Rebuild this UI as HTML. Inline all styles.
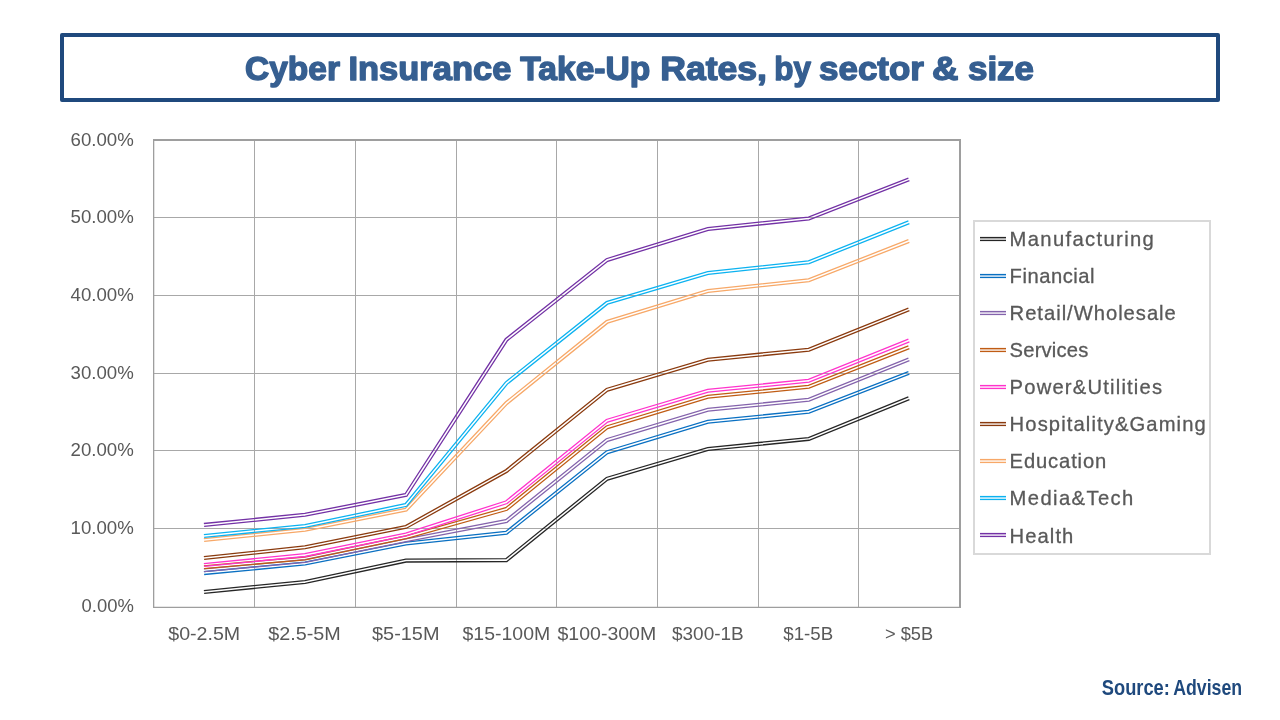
<!DOCTYPE html>
<html lang="en"><head><meta charset="utf-8"><title>Cyber Insurance Take-Up Rates, by sector &amp; size</title>
<style>
html,body{margin:0;padding:0;background:#fff;}
body{width:1280px;height:720px;overflow:hidden;position:relative;font-family:"Liberation Sans", sans-serif;}
svg{position:absolute;left:0;top:0;display:block}
text{font-family:"Liberation Sans", sans-serif;}
.ax{font-size:18.4px;fill:#595959}
.lg{font-size:20.2px;fill:#595959;stroke:#595959;stroke-width:0.3px}
.ttl{font-size:34.0px;font-weight:bold;fill:#365F91;stroke:#365F91;stroke-width:1.45px;stroke-linejoin:round}
.src{font-size:21.4px;font-weight:bold;fill:#1F497D}
</style></head><body>
<svg width="1280" height="720" viewBox="0 0 1280 720">
<rect width="1280" height="720" fill="#fff"/>
<rect x="62" y="35" width="1156" height="65" fill="#fff" stroke="#1F497D" stroke-width="4" stroke-linejoin="round"/>
<g class="ttl"><text x="245" y="80.4" textLength="95" lengthAdjust="spacingAndGlyphs">Cyber</text><text x="348.5" y="80.4" textLength="162.8" lengthAdjust="spacingAndGlyphs">Insurance</text><text x="520.3" y="80.4" textLength="130.0" lengthAdjust="spacingAndGlyphs">Take-Up</text><text x="660.2" y="80.4" textLength="106.79999999999995" lengthAdjust="spacingAndGlyphs">Rates,</text><text x="774.3" y="80.4" textLength="36.700000000000045" lengthAdjust="spacingAndGlyphs">by</text><text x="819" y="80.4" textLength="105" lengthAdjust="spacingAndGlyphs">sector</text><text x="932" y="80.4" textLength="26.5" lengthAdjust="spacingAndGlyphs">&amp;</text><text x="968" y="80.4" textLength="66" lengthAdjust="spacingAndGlyphs">size</text></g>
<g stroke="#A8A8A8" stroke-width="1" fill="none" shape-rendering="crispEdges"><line x1="153.65" y1="217.5" x2="960.0" y2="217.5"/><line x1="153.65" y1="295.5" x2="960.0" y2="295.5"/><line x1="153.65" y1="373.5" x2="960.0" y2="373.5"/><line x1="153.65" y1="450.5" x2="960.0" y2="450.5"/><line x1="153.65" y1="528.5" x2="960.0" y2="528.5"/><line x1="254.50" y1="140.0" x2="254.50" y2="607.0"/><line x1="355.50" y1="140.0" x2="355.50" y2="607.0"/><line x1="456.50" y1="140.0" x2="456.50" y2="607.0"/><line x1="556.50" y1="140.0" x2="556.50" y2="607.0"/><line x1="657.50" y1="140.0" x2="657.50" y2="607.0"/><line x1="758.50" y1="140.0" x2="758.50" y2="607.0"/><line x1="858.50" y1="140.0" x2="858.50" y2="607.0"/></g>
<g stroke="#9E9E9E" fill="none"><line x1="153" y1="140" x2="961" y2="140" stroke-width="2"/><line x1="960" y1="139" x2="960" y2="608" stroke-width="2"/><line x1="153.65" y1="139" x2="153.65" y2="608" stroke-width="1.3"/><line x1="153" y1="607.35" x2="961" y2="607.35" stroke-width="1.3"/></g>
<g fill="none" stroke="#262626" stroke-width="1.3" stroke-linejoin="miter"><polyline points="204.14,593.39 305.21,583.39 406.15,562.00 506.90,561.50 607.66,480.01 708.17,450.38 809.09,440.27 909.43,399.55"/><polyline points="203.86,590.61 304.79,580.61 405.85,559.20 505.90,558.70 606.34,477.49 707.63,447.62 808.41,437.53 908.37,396.95"/></g>
<g fill="none" stroke="#0A70C2" stroke-width="1.3" stroke-linejoin="miter"><polyline points="204.13,574.49 305.20,564.89 406.21,544.89 506.96,534.10 607.66,453.51 708.17,423.13 809.08,413.12 909.41,374.21"/><polyline points="203.87,571.71 304.80,562.11 405.79,542.11 505.84,531.40 606.34,450.99 707.63,420.37 808.42,410.38 908.39,371.59"/></g>
<g fill="none" stroke="#8463AC" stroke-width="1.3" stroke-linejoin="miter"><polyline points="204.13,571.69 305.21,562.39 406.27,541.67 507.01,522.31 607.66,441.26 708.17,411.13 809.09,401.12 909.42,360.70"/><polyline points="203.87,568.91 304.79,559.61 405.73,538.93 505.79,519.69 606.34,438.74 707.63,408.37 808.41,398.38 908.38,358.10"/></g>
<g fill="none" stroke="#C05C14" stroke-width="1.3" stroke-linejoin="miter"><polyline points="204.12,568.59 305.21,559.79 406.33,538.56 507.06,510.27 607.67,428.51 708.17,398.13 809.08,388.12 909.41,348.55"/><polyline points="203.88,565.81 304.79,557.01 405.67,535.84 505.74,507.73 606.33,425.99 707.63,395.37 808.42,385.38 908.39,345.95"/></g>
<g fill="none" stroke="#FF33CC" stroke-width="1.3" stroke-linejoin="miter"><polyline points="204.14,566.39 305.21,556.49 406.36,535.96 507.08,503.50 607.67,422.01 708.17,392.13 809.09,382.12 909.42,341.80"/><polyline points="203.86,563.61 304.79,553.71 405.64,533.24 505.72,501.00 606.33,419.49 707.63,389.37 808.41,379.38 908.38,339.20"/></g>
<g fill="none" stroke="#8A3A0E" stroke-width="1.3" stroke-linejoin="miter"><polyline points="204.15,559.39 305.21,548.69 406.49,528.23 507.19,472.16 607.66,391.01 708.17,361.08 809.09,351.12 909.42,310.70"/><polyline points="203.85,556.61 304.79,545.91 405.51,525.57 505.61,469.84 606.34,388.49 707.63,358.32 808.41,348.38 908.38,308.10"/></g>
<g fill="none" stroke="#F7A868" stroke-width="1.3" stroke-linejoin="miter"><polyline points="204.14,541.39 305.21,531.09 406.71,510.99 507.35,404.13 607.67,323.16 708.18,292.28 809.08,281.62 909.41,242.30"/><polyline points="203.86,538.61 304.79,528.31 405.29,508.41 505.45,402.07 606.33,320.64 707.62,289.52 808.42,278.88 908.39,239.70"/></g>
<g fill="none" stroke="#0CB2F0" stroke-width="1.3" stroke-linejoin="miter"><polyline points="204.14,537.39 305.21,527.39 406.77,506.27 507.39,384.10 607.66,304.16 708.18,274.38 809.09,263.62 909.42,223.55"/><polyline points="203.86,534.61 304.79,524.61 405.23,503.73 505.41,382.10 606.34,301.64 707.62,271.62 808.41,260.88 908.38,220.95"/></g>
<g fill="none" stroke="#7331A5" stroke-width="1.3" stroke-linejoin="miter"><polyline points="204.14,526.29 305.20,516.19 406.85,496.26 507.45,340.70 607.66,261.26 708.18,230.28 809.08,219.87 909.41,180.70"/><polyline points="203.86,523.51 304.80,513.41 405.15,493.74 505.35,338.80 606.34,258.74 707.62,227.52 808.42,217.13 908.39,178.10"/></g>
<g class="ax" text-anchor="end"><text x="133.8" y="145.6" textLength="63.2" lengthAdjust="spacingAndGlyphs">60.00%</text><text x="133.8" y="222.9" textLength="63.2" lengthAdjust="spacingAndGlyphs">50.00%</text><text x="133.8" y="300.6" textLength="63.2" lengthAdjust="spacingAndGlyphs">40.00%</text><text x="133.8" y="378.6" textLength="63.2" lengthAdjust="spacingAndGlyphs">30.00%</text><text x="133.8" y="456.0" textLength="63.2" lengthAdjust="spacingAndGlyphs">20.00%</text><text x="133.8" y="534.3" textLength="63.2" lengthAdjust="spacingAndGlyphs">10.00%</text><text x="133.8" y="611.5" textLength="52.3" lengthAdjust="spacingAndGlyphs">0.00%</text></g>
<g class="ax"><text x="168.25" y="639.7" textLength="71.95" lengthAdjust="spacingAndGlyphs">$0-2.5M</text><text x="268.25" y="639.7" textLength="72.45" lengthAdjust="spacingAndGlyphs">$2.5-5M</text><text x="372.0" y="639.7" textLength="67.45" lengthAdjust="spacingAndGlyphs">$5-15M</text><text x="462.5" y="639.7" textLength="87.70" lengthAdjust="spacingAndGlyphs">$15-100M</text><text x="557.5" y="639.7" textLength="98.70" lengthAdjust="spacingAndGlyphs">$100-300M</text><text x="672.0" y="639.7" textLength="71.70" lengthAdjust="spacingAndGlyphs">$300-1B</text><text x="783.25" y="639.7" textLength="49.95" lengthAdjust="spacingAndGlyphs">$1-5B</text><text x="885.0" y="639.7" textLength="48.20" lengthAdjust="spacingAndGlyphs">&gt; $5B</text></g>
<rect x="974" y="221" width="236" height="333" fill="#fff" stroke="#D9D9D9" stroke-width="2"/>
<g stroke="#262626"><line x1="980" y1="237.65" x2="1006" y2="237.65" stroke-width="1.5"/><line x1="980" y1="240.42" x2="1006" y2="240.42" stroke-width="1.35"/></g><text class="lg" x="1009.6" y="246.00" textLength="144.20" lengthAdjust="spacing">Manufacturing</text>
<g stroke="#0A70C2"><line x1="980" y1="274.65" x2="1006" y2="274.65" stroke-width="1.5"/><line x1="980" y1="277.42" x2="1006" y2="277.42" stroke-width="1.35"/></g><text class="lg" x="1009.6" y="283.00" textLength="84.95" lengthAdjust="spacing">Financial</text>
<g stroke="#8463AC"><line x1="980" y1="311.65" x2="1006" y2="311.65" stroke-width="1.5"/><line x1="980" y1="314.42" x2="1006" y2="314.42" stroke-width="1.35"/></g><text class="lg" x="1009.6" y="320.00" textLength="166.20" lengthAdjust="spacing">Retail/Wholesale</text>
<g stroke="#C05C14"><line x1="980" y1="348.65" x2="1006" y2="348.65" stroke-width="1.5"/><line x1="980" y1="351.42" x2="1006" y2="351.42" stroke-width="1.35"/></g><text class="lg" x="1009.6" y="357.00" textLength="78.70" lengthAdjust="spacing">Services</text>
<g stroke="#FF33CC"><line x1="980" y1="385.65" x2="1006" y2="385.65" stroke-width="1.5"/><line x1="980" y1="388.42" x2="1006" y2="388.42" stroke-width="1.35"/></g><text class="lg" x="1009.6" y="394.00" textLength="152.45" lengthAdjust="spacing">Power&amp;Utilities</text>
<g stroke="#8A3A0E"><line x1="980" y1="422.65" x2="1006" y2="422.65" stroke-width="1.5"/><line x1="980" y1="425.42" x2="1006" y2="425.42" stroke-width="1.35"/></g><text class="lg" x="1009.6" y="431.00" textLength="196.20" lengthAdjust="spacing">Hospitality&amp;Gaming</text>
<g stroke="#F7A868"><line x1="980" y1="459.65" x2="1006" y2="459.65" stroke-width="1.5"/><line x1="980" y1="462.42" x2="1006" y2="462.42" stroke-width="1.35"/></g><text class="lg" x="1009.6" y="468.00" textLength="96.70" lengthAdjust="spacing">Education</text>
<g stroke="#0CB2F0"><line x1="980" y1="496.65" x2="1006" y2="496.65" stroke-width="1.5"/><line x1="980" y1="499.42" x2="1006" y2="499.42" stroke-width="1.35"/></g><text class="lg" x="1009.6" y="505.00" textLength="123.70" lengthAdjust="spacing">Media&amp;Tech</text>
<g stroke="#7331A5"><line x1="980" y1="533.65" x2="1006" y2="533.65" stroke-width="1.5"/><line x1="980" y1="536.42" x2="1006" y2="536.42" stroke-width="1.35"/></g><text class="lg" x="1009.6" y="542.60" textLength="63.70" lengthAdjust="spacing">Health</text>
<text class="src" y="694.7"><tspan x="1101.8" textLength="68" lengthAdjust="spacingAndGlyphs">Source:</tspan> <tspan x="1173.3" textLength="68.8" lengthAdjust="spacingAndGlyphs">Advisen</tspan></text>
</svg>
</body></html>
